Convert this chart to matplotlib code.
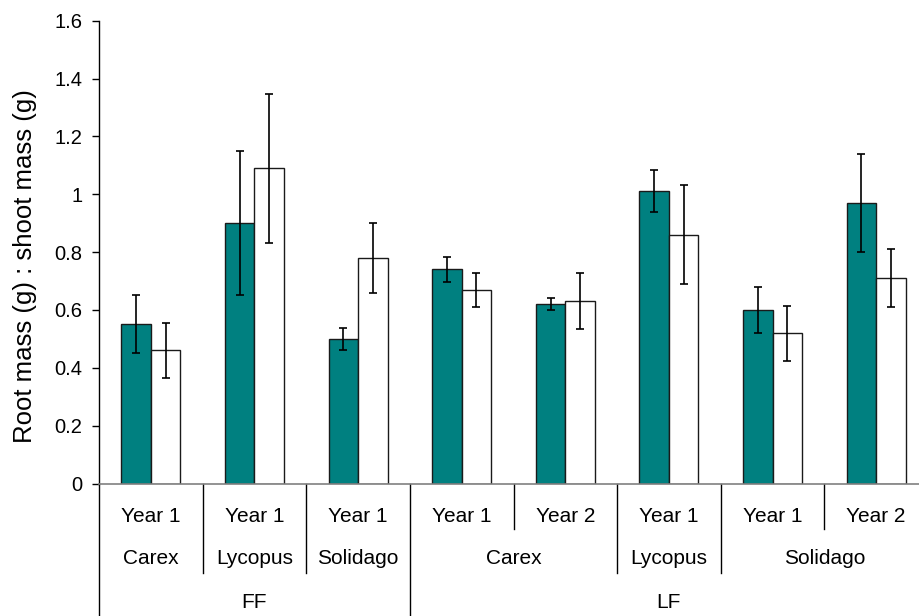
import numpy as np
import matplotlib
matplotlib.use('Agg')
import matplotlib.pyplot as plt
from matplotlib.transforms import blended_transform_factory

plt.rcParams['font.family'] = ['Liberation Sans', 'DejaVu Sans']

# data
year_labels = ['Year 1', 'Year 1', 'Year 1', 'Year 1', 'Year 2', 'Year 1', 'Year 1', 'Year 2']
species_labels = ['Carex', 'Lycopus', 'Solidago', 'Carex', 'Carex', 'Lycopus', 'Solidago', 'Solidago']
site_labels = ['FF', 'FF', 'FF', 'LF', 'LF', 'LF', 'LF', 'LF']

teal_vals = [0.55, 0.90, 0.50, 0.74, 0.62, 1.01, 0.60, 0.97]
teal_err = [0.10, 0.25, 0.037, 0.043, 0.021, 0.073, 0.078, 0.168]
white_vals = [0.46, 1.09, 0.78, 0.67, 0.63, 0.86, 0.52, 0.71]
white_err = [0.096, 0.257, 0.122, 0.059, 0.097, 0.171, 0.095, 0.10]

y_ticks = [0, 0.2, 0.4, 0.6, 0.8, 1.0, 1.2, 1.4, 1.6]

W, H = 919, 616
fig = plt.figure(figsize=(W / 100, H / 100), dpi=100)

# plot area in pixels (right edge runs past the picture like the original)
left, right, top, bottom = 99, 928, 20.7, 483.5
ax = fig.add_axes([left / W, 1 - bottom / H, (right - left) / W, (bottom - top) / H])

x = np.arange(len(year_labels))
bw = 0.285
ekw = dict(ecolor='black', elinewidth=1.2, capsize=3.2, capthick=1.2)
ax.bar(x - bw / 2, teal_vals, bw, yerr=teal_err, color='#008080',
       edgecolor='#1a1a1a', linewidth=1.0, error_kw=ekw, zorder=2)
ax.bar(x + bw / 2, white_vals, bw, yerr=white_err, color='white',
       edgecolor='#1a1a1a', linewidth=1.0, error_kw=ekw, zorder=2)

ax.set_xlim(-0.5, len(x) - 0.5)
ax.set_ylim(0, 1.6)
ax.set_yticks(y_ticks)
ax.set_yticklabels(['{:g}'.format(v) for v in y_ticks], fontsize=14.5)
ax.tick_params(axis='y', direction='out', length=5, width=1, pad=7)
ax.set_xticks([])

for s in ['top', 'right']:
    ax.spines[s].set_visible(False)
ax.spines['left'].set_color('black')
ax.spines['left'].set_linewidth(1)
ax.spines['bottom'].set_color('#808080')
ax.spines['bottom'].set_linewidth(1.2)

fig.text(25 / W, 1 - 266 / H, 'Root mass (g) : shoot mass (g)', rotation=90,
         ha='center', va='center', fontsize=18.5)

# multi level category axis
trans = blended_transform_factory(ax.transData, fig.transFigure)
row_y = [516, 559, 602]
row_end = [529, 573, 616]

def runs(keys):
    out = []
    start = 0
    for i in range(1, len(keys) + 1):
        if i == len(keys) or keys[i] != keys[start]:
            out.append((start, i - 1))
            start = i
    return out

levels = [list(range(len(x))),
          list(zip(site_labels, species_labels)),
          list(site_labels)]
names = [year_labels, species_labels, site_labels]

for lev in range(3):
    for a, b in runs(levels[lev]):
        xc = (a + b) / 2
        fig.text(xc, 1 - row_y[lev] / H, names[lev][a], transform=trans,
                 fontsize=15, ha='center', va='center')

# separator lines between categories
for i in range(len(x) + 1):
    if i == 0 or i == len(x) or site_labels[i] != site_labels[i - 1]:
        yend = row_end[2]
    elif species_labels[i] != species_labels[i - 1]:
        yend = row_end[1]
    else:
        yend = row_end[0]
    ax.plot([i - 0.5, i - 0.5], [1 - bottom / H, 1 - yend / H], transform=trans,
            color='black', linewidth=1, clip_on=False)

fig.savefig('out.png', dpi=100)
